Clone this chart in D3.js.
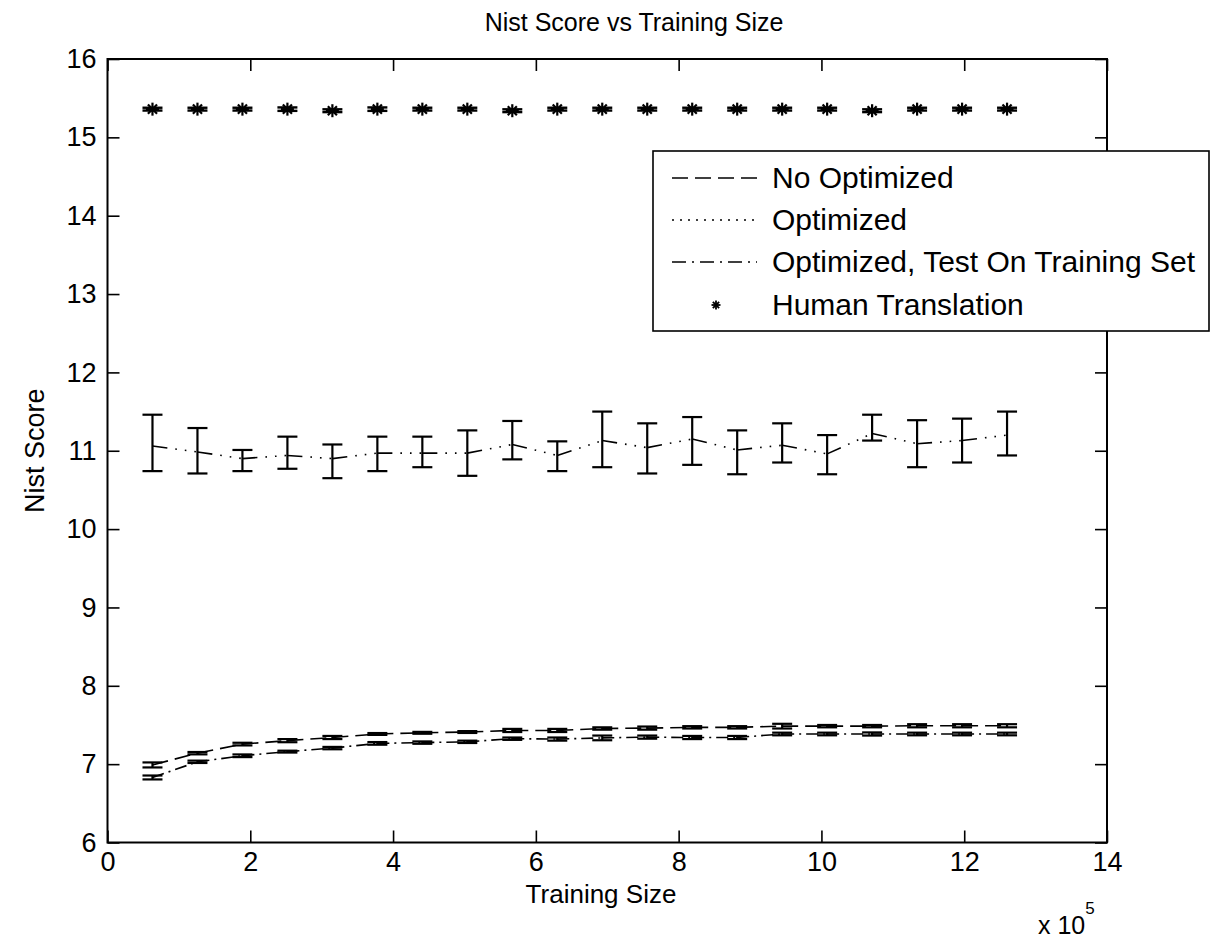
<!DOCTYPE html>
<html><head><meta charset="utf-8">
<script src="https://cdn.jsdelivr.net/npm/d3@7"></script>
<style>
body{margin:0;background:#fff}
text{font-family:"Liberation Sans",Arial,sans-serif;fill:#000}
</style>
</head><body>
<svg id="c" width="1211" height="938"></svg>
<script>
// Training size (x 10^5)
const trainingSize = [0.63, 1.26, 1.89, 2.52, 3.15, 3.78, 4.41, 5.04, 5.67, 6.30, 6.93, 7.56, 8.19, 8.82, 9.45, 10.08, 10.71, 11.34, 11.97, 12.60];

// No Optimized (dashed)
const noOptMean = [6.99, 7.14, 7.256, 7.30, 7.34, 7.385, 7.40, 7.41, 7.43, 7.43, 7.455, 7.46, 7.47, 7.47, 7.485, 7.485, 7.485, 7.49, 7.49, 7.49];
const noOptErr  = [0.032, 0.015, 0.017, 0.02, 0.02, 0.012, 0.012, 0.012, 0.02, 0.02, 0.015, 0.02, 0.015, 0.015, 0.03, 0.015, 0.015, 0.02, 0.02, 0.02];

// Optimized (dotted)
const optMean = [11.06, 10.985, 10.90, 10.94, 10.90, 10.97, 10.97, 10.97, 11.08, 10.94, 11.13, 11.04, 11.15, 11.01, 11.07, 10.96, 11.22, 11.09, 11.13, 11.20];
const optLow  = [10.74, 10.71, 10.74, 10.77, 10.65, 10.74, 10.79, 10.68, 10.89, 10.74, 10.79, 10.71, 10.82, 10.70, 10.85, 10.70, 11.13, 10.79, 10.85, 10.94];
const optHigh = [11.46, 11.29, 11.01, 11.18, 11.08, 11.18, 11.18, 11.26, 11.38, 11.12, 11.50, 11.35, 11.43, 11.26, 11.35, 11.20, 11.46, 11.39, 11.41, 11.50];

// Optimized, Test On Training Set (dash-dot)
const trainSetMean = [6.83, 7.03, 7.107, 7.16, 7.205, 7.265, 7.275, 7.285, 7.325, 7.32, 7.335, 7.345, 7.34, 7.34, 7.385, 7.385, 7.385, 7.385, 7.385, 7.385];
const trainSetErr  = [0.025, 0.015, 0.017, 0.012, 0.015, 0.017, 0.015, 0.015, 0.015, 0.02, 0.03, 0.02, 0.02, 0.02, 0.017, 0.017, 0.02, 0.017, 0.017, 0.017];

// Human Translation (markers)
const humanMean = [15.36, 15.36, 15.36, 15.36, 15.34, 15.36, 15.36, 15.36, 15.34, 15.36, 15.36, 15.36, 15.36, 15.36, 15.36, 15.36, 15.34, 15.36, 15.36, 15.36];
const humanErr  = [0.018, 0.018, 0.018, 0.022, 0.018, 0.022, 0.018, 0.018, 0.018, 0.018, 0.018, 0.018, 0.018, 0.018, 0.018, 0.018, 0.018, 0.018, 0.018, 0.018];

const xTicks = [0, 2, 4, 6, 8, 10, 12, 14];
const yTicks = [6, 7, 8, 9, 10, 11, 12, 13, 14, 15, 16];
const legendLabels = ["No Optimized", "Optimized", "Optimized, Test On Training Set", "Human Translation"];

const svg = d3.select("#c");
const L = 107.5, R = 1107, T = 59, B = 842.5;
const x = d3.scaleLinear().domain([0, 14]).range([L, R]);
const y = d3.scaleLinear().domain([6, 16]).range([B, T]);

function styleAxis(g){
  g.select(".domain").remove();
  g.selectAll(".tick line").attr("stroke","#000").attr("stroke-width",1.6);
}
svg.append("g").attr("transform",`translate(0,${B})`)
  .call(d3.axisBottom(x).tickValues(xTicks).tickSizeInner(-12).tickSizeOuter(0).tickPadding(9))
  .call(styleAxis)
  .selectAll("text").attr("font-size",27).attr("font-family","Liberation Sans, Arial, sans-serif");
svg.append("g").attr("transform",`translate(${L},0)`)
  .call(d3.axisLeft(y).tickValues(yTicks).tickSizeInner(-12).tickSizeOuter(0).tickPadding(11))
  .call(styleAxis)
  .selectAll("text").attr("font-size",27).attr("font-family","Liberation Sans, Arial, sans-serif");
svg.append("g").attr("transform",`translate(0,${T})`)
  .call(d3.axisTop(x).tickValues(xTicks).tickSizeInner(-12).tickSizeOuter(0).tickFormat(""))
  .call(styleAxis);
svg.append("g").attr("transform",`translate(${R},0)`)
  .call(d3.axisRight(y).tickValues(yTicks).tickSizeInner(-12).tickSizeOuter(0).tickFormat(""))
  .call(styleAxis);
svg.append("rect").attr("x",L).attr("y",T).attr("width",R-L).attr("height",B-T)
  .attr("fill","none").attr("stroke","#000").attr("stroke-width",2);

// Titles
svg.append("text").attr("x",634).attr("y",31).attr("text-anchor","middle")
  .attr("font-size",25).text("Nist Score vs Training Size");
svg.append("text").attr("x",601).attr("y",903).attr("text-anchor","middle")
  .attr("font-size",26).text("Training Size");
svg.append("text").attr("transform",`translate(44,${(T+B)/2}) rotate(-90)`)
  .attr("text-anchor","middle").attr("font-size",27).text("Nist Score");
const ex = svg.append("text").attr("x",1038).attr("y",934).attr("font-size",25);
ex.append("tspan").text("x 10");
ex.append("tspan").attr("dy",-20).attr("font-size",17).text("5");

const cap = 10;
function errorBars(lo, hi, sw){
  const g = svg.append("g").attr("stroke","#000").attr("stroke-width",sw).attr("fill","none");
  trainingSize.forEach((d,i)=>{
    const px = x(d);
    g.append("line").attr("x1",px).attr("x2",px).attr("y1",y(lo[i])).attr("y2",y(hi[i]));
    g.append("line").attr("x1",px-cap).attr("x2",px+cap).attr("y1",y(lo[i])).attr("y2",y(lo[i]));
    g.append("line").attr("x1",px-cap).attr("x2",px+cap).attr("y1",y(hi[i])).attr("y2",y(hi[i]));
  });
}
function segLine(vals, dash){
  const g = svg.append("g").attr("stroke","#000").attr("stroke-width",1.6).attr("fill","none");
  for(let i=0;i<vals.length-1;i++){
    g.append("line").attr("x1",x(trainingSize[i])).attr("y1",y(vals[i]))
      .attr("x2",x(trainingSize[i+1])).attr("y2",y(vals[i+1]))
      .attr("stroke-dasharray",dash);
  }
}

// Optimized (dotted)
segLine(optMean, "15,8,1.6,8,1.6,8,1.6,8");
errorBars(optLow, optHigh, 2.2);

// No Optimized (dashed)
segLine(noOptMean, "16,7");
errorBars(noOptMean.map((m,i)=>m-noOptErr[i]), noOptMean.map((m,i)=>m+noOptErr[i]), 2.2);

// Optimized, Test On Training Set (dash-dot)
segLine(trainSetMean, "12,5,2,5");
errorBars(trainSetMean.map((m,i)=>m-trainSetErr[i]), trainSetMean.map((m,i)=>m+trainSetErr[i]), 2.2);

// Human translation: error caps + asterisk markers
errorBars(humanMean.map((m,i)=>m-humanErr[i]), humanMean.map((m,i)=>m+humanErr[i]), 2.4);
function asterisk(g, cx, cy, r){
  g.append("line").attr("x1",cx-r).attr("x2",cx+r).attr("y1",cy).attr("y2",cy);
  g.append("line").attr("x1",cx).attr("x2",cx).attr("y1",cy-r).attr("y2",cy+r);
  const k = r*0.7;
  g.append("line").attr("x1",cx-k).attr("x2",cx+k).attr("y1",cy-k).attr("y2",cy+k);
  g.append("line").attr("x1",cx-k).attr("x2",cx+k).attr("y1",cy+k).attr("y2",cy-k);
}
const hg = svg.append("g").attr("stroke","#000").attr("stroke-width",2.2);
trainingSize.forEach((d,i)=>asterisk(hg, x(d), y(humanMean[i]), 6.5));

// Legend
const lg = svg.append("g");
lg.append("rect").attr("x",653).attr("y",151).attr("width",556).attr("height",180)
  .attr("fill","#fff").attr("stroke","#000").attr("stroke-width",1.6);
const rowY = [178, 220, 262, 305];
const dashes = ["16,7", "2,6", "14,6,2,6", null];
legendLabels.forEach((lab,i)=>{
  if(dashes[i]){
    lg.append("line").attr("x1",672).attr("x2",757).attr("y1",rowY[i]).attr("y2",rowY[i])
      .attr("stroke","#000").attr("stroke-width",1.6).attr("stroke-dasharray",dashes[i]);
  } else {
    const ag = lg.append("g").attr("stroke","#000").attr("stroke-width",1.8);
    asterisk(ag, 716, rowY[i], 4.5);
  }
  lg.append("text").attr("x",772).attr("y",rowY[i]+10).attr("font-size",30).text(lab);
});
</script>
</body></html>
